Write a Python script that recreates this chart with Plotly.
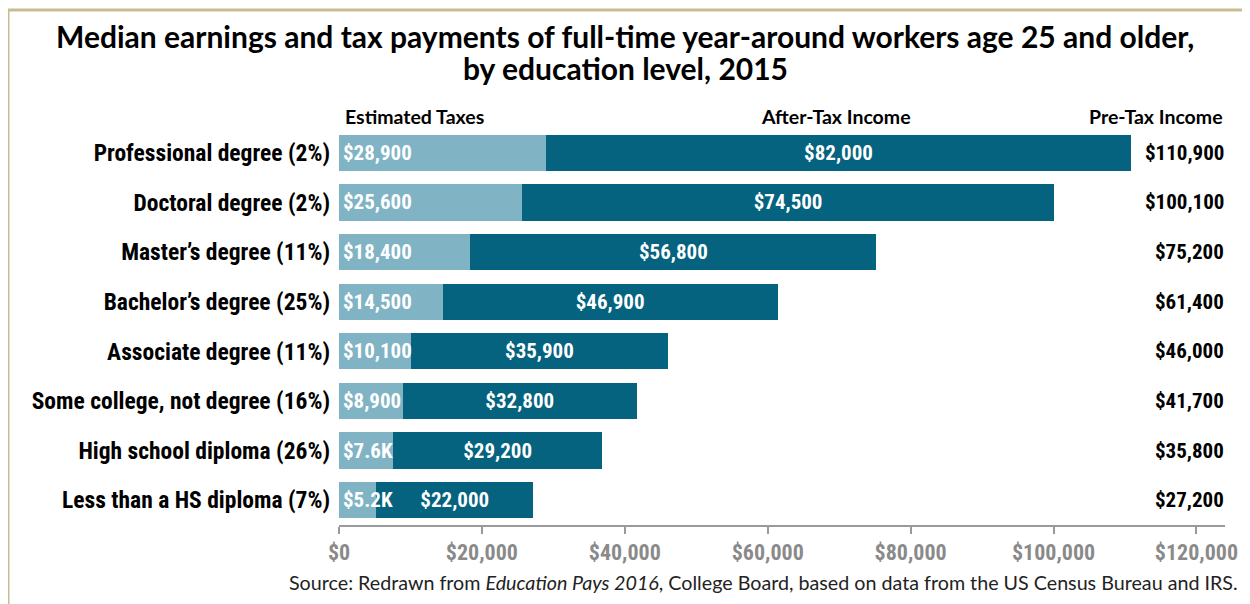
import plotly.graph_objects as go

categories = [
    "Professional degree (2%)",
    "Doctoral degree (2%)",
    "Master\u2019s degree (11%)",
    "Bachelor\u2019s degree (25%)",
    "Associate degree (11%)",
    "Some college, not degree (16%)",
    "High school diploma (26%)",
    "Less than a HS diploma (7%)",
]
taxes = [28900, 25600, 18400, 14500, 10100, 8900, 7600, 5200]
after_tax = [82000, 74500, 56800, 46900, 35900, 32800, 29200, 22000]
pre_tax = [110900, 100100, 75200, 61400, 46000, 41700, 35800, 27200]
tax_labels = ["$28,900", "$25,600", "$18,400", "$14,500", "$10,100", "$8,900", "$7.6K", "$5.2K"]
tick_vals = [0, 20000, 40000, 60000, 80000, 100000, 120000]

LIGHT = "#80b3c4"
DARK = "#05637f"
NARROW = "Liberation Sans Narrow, Roboto Condensed, DejaVu Sans Condensed, Arial Narrow, sans-serif"
HUMANIST = "Lato, Carlito, Calibri, Open Sans, sans-serif"

fig = go.Figure()
fig.add_trace(go.Bar(
    y=categories, x=taxes, orientation="h", marker=dict(color=LIGHT, line=dict(width=0)),
    name="Estimated Taxes", hoverinfo="x",
))
fig.add_trace(go.Bar(
    y=categories, x=after_tax, orientation="h", marker=dict(color=DARK, line=dict(width=0)),
    name="After-Tax Income", text=[f"${v:,}" for v in after_tax],
    textposition="inside", insidetextanchor="middle", constraintext="none",
    textfont=dict(family=NARROW, size=21, color="white", weight="bold"),
    hoverinfo="x",
))

annotations = []
for cat, lab, pre in zip(categories, tax_labels, pre_tax):
    annotations.append(dict(
        x=0, y=cat, xref="x", yref="y", text=lab, showarrow=False,
        xanchor="left", xshift=2,
        font=dict(family=NARROW, size=21, color="white", weight="bold"),
    ))
    annotations.append(dict(
        x=1.0, y=cat, xref="paper", yref="y", text=f"${pre:,}", showarrow=False,
        xanchor="right", xshift=1,
        font=dict(family=NARROW, size=21, color="black", weight="bold"),
    ))

title_font = dict(family=HUMANIST, size=30, color="black", weight="bold")
head_font = dict(family=HUMANIST, size=19.5, color="black", weight="bold")
annotations += [
    dict(x=0.3228, y=1.232, xref="paper", yref="paper",
         text="Median earnings and tax payments of full-time year-around workers age 25 and older,",
         showarrow=False, xanchor="center", yanchor="middle", font=title_font),
    dict(x=0.3228, y=1.151, xref="paper", yref="paper",
         text="by education level, 2015",
         showarrow=False, xanchor="center", yanchor="middle", font=title_font),
    dict(x=0.005, y=1.028, xref="paper", yref="paper", text="Estimated Taxes",
         showarrow=False, xanchor="left", yanchor="middle", font=head_font),
    dict(x=0.561, y=1.028, xref="paper", yref="paper", text="After-Tax Income",
         showarrow=False, xanchor="center", yanchor="middle", font=head_font),
    dict(x=1.0, y=1.028, xref="paper", yref="paper", text="Pre-Tax Income",
         showarrow=False, xanchor="right", yanchor="middle", font=head_font),
    dict(x=1.017, y=-0.146, xref="paper", yref="paper",
         text="Source: Redrawn from <i>Education Pays 2016</i>, College Board, based on data from the US Census Bureau and IRS.",
         showarrow=False, xanchor="right", yanchor="middle",
         font=dict(family=HUMANIST, size=19.7, color="#222222")),
]

# page body adds an 8px offset, so margins are shifted to compensate
fig.update_layout(
    width=1250, height=604,
    margin=dict(l=331, r=33, t=120, b=87),
    barmode="stack", bargap=0.27,
    showlegend=False,
    plot_bgcolor="white", paper_bgcolor="white",
    annotations=annotations,
    shapes=[dict(
        type="rect", xref="paper", yref="paper",
        xsizemode="pixel", ysizemode="pixel", xanchor=0, yanchor=1,
        x0=-331, x1=2000, y0=-1000, y1=118,
        line=dict(color="#c9bb94", width=3), layer="below",
    )],
)
fig.update_xaxes(
    range=[0, 124000], tickvals=tick_vals, tickformat="$,",
    showgrid=False, zeroline=False,
    showline=True, linecolor="#9a9a9a", linewidth=2,
    ticks="outside", ticklen=7, tickwidth=2, tickcolor="#9a9a9a",
    tickfont=dict(family=NARROW, size=22, color="#8a8a8a", weight="bold"),
)
fig.update_yaxes(
    categoryorder="array", categoryarray=categories, autorange="reversed",
    showgrid=False, zeroline=False, showline=False, ticks="",
    ticklabelstandoff=8,
    tickfont=dict(family=NARROW, size=23.5, color="black", weight="bold"),
)

fig.write_html("out.html")
